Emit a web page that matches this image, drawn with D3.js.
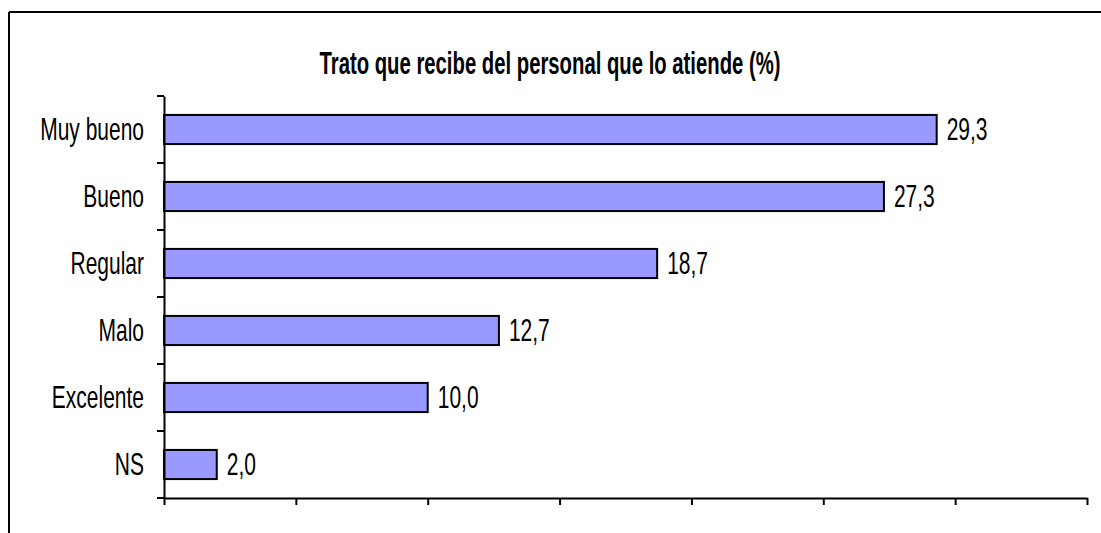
<!DOCTYPE html>
<html>
<head>
<meta charset="utf-8">
<script src="https://cdn.jsdelivr.net/npm/d3@7"></script>
<style>
  body { margin: 0; background: #fff; }
  text { font-family: "Liberation Sans", Arial, sans-serif; }
</style>
</head>
<body>
<div id="chart"></div>
<script>
// Chart data
var categories = ["Muy bueno", "Bueno", "Regular", "Malo", "Excelente", "NS"];
var values = [29.3, 27.3, 18.7, 12.7, 10.0, 2.0];
var xTicks = [0, 5, 10, 15, 20, 25, 30, 35];
var title = "Trato que recibe del personal que lo atiende (%)";

var W = 1101, H = 533;
var margin = { top: 96, right: 14, bottom: 35, left: 164 },
    width = 1087 - margin.left,
    height = 498 - margin.top;
var stretch = 1.45; // the original text is tall and narrow

var root = d3.select("#chart")
    .append("svg")
    .attr("width", W)
    .attr("height", H);

// outer frame (only top and left edges are visible)
root.append("line")
    .attr("x1", 9).attr("y1", 12).attr("x2", W + 5).attr("y2", 12)
    .attr("stroke", "#000").attr("stroke-width", 2);
root.append("line")
    .attr("x1", 9).attr("y1", 12).attr("x2", 9).attr("y2", H + 5)
    .attr("stroke", "#000").attr("stroke-width", 2);

root.append("text")
    .attr("transform", "translate(550,74) scale(1,1.5)")
    .attr("text-anchor", "middle")
    .attr("font-weight", "bold")
    .attr("font-size", "20.3px")
    .text(title);

var svg = root.append("g")
    .attr("transform", "translate(" + margin.left + "," + margin.top + ")");

var x = d3.scaleLinear().domain([0, 35]).range([0, width]);
var y = d3.scaleBand().domain(categories).range([0, height]).padding(0);
var barH = y.bandwidth() * 0.435;

// bars
svg.selectAll("rect.bar")
    .data(values)
    .enter()
    .append("rect")
    .attr("class", "bar")
    .attr("x", x(0))
    .attr("y", function (d, i) { return y(categories[i]) + (y.bandwidth() - barH) / 2; })
    .attr("width", function (d) { return x(d) - x(0); })
    .attr("height", barH)
    .attr("fill", "#9999ff")
    .attr("stroke", "#000")
    .attr("stroke-width", 2);

// value labels
svg.selectAll("text.val")
    .data(values)
    .enter()
    .append("text")
    .attr("class", "val")
    .attr("transform", function (d, i) {
        return "translate(" + (x(d) + 10) + "," + (y(categories[i]) + y.bandwidth() / 2) + ") scale(1," + stretch + ")";
    })
    .attr("dy", "0.36em")
    .attr("font-size", "21px")
    .text(function (d) { return d.toFixed(1).replace(".", ","); });

// x axis (ticks only, no labels)
var xAxis = svg.append("g")
    .attr("transform", "translate(0," + height + ")")
    .call(d3.axisBottom(x).tickValues(xTicks).tickSize(7).tickSizeOuter(0).tickFormat(""));

// y axis: ticks between categories
var yAxis = svg.append("g")
    .call(d3.axisLeft(y).tickSize(0).tickPadding(20).tickSizeOuter(0));
yAxis.selectAll("text")
    .attr("font-size", "21px")
    .attr("fill", "#000")
    .attr("dy", "0.36em")
    .attr("transform", "scale(1," + stretch + ")");
var bounds = categories.map(function (c) { return y(c); }).concat([height]);
svg.selectAll("line.ytick")
    .data(bounds)
    .enter()
    .append("line")
    .attr("class", "ytick")
    .attr("x1", -7).attr("x2", 0)
    .attr("y1", function (d) { return d; })
    .attr("y2", function (d) { return d; })
    .attr("stroke", "#000")
    .attr("stroke-width", 2);

[xAxis, yAxis].forEach(function (g) {
    g.selectAll("path, line").attr("stroke", "#000").attr("stroke-width", 2);
    g.select(".domain").attr("stroke-width", 2);
});
</script>
</body>
</html>
